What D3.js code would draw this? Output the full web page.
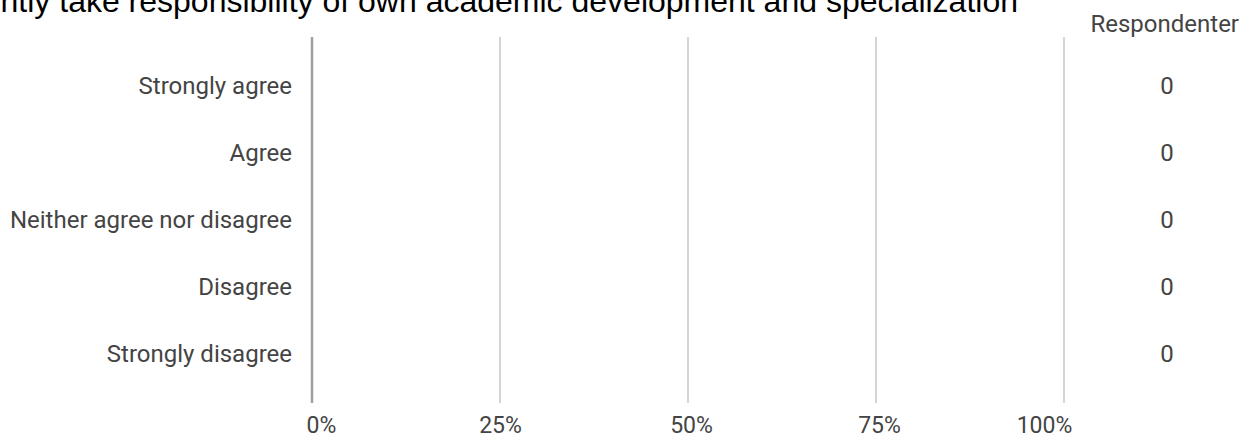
<!DOCTYPE html>
<html>
<head>
<meta charset="utf-8">
<script src="https://cdn.jsdelivr.net/npm/d3@7"></script>
<style>
  html, body { margin: 0; padding: 0; background: #fff; overflow: hidden; }
  svg { display: block; }
</style>
</head>
<body>
<svg id="chart" width="1258" height="441"></svg>
<script>
const titleText = "I currently take responsibility of own academic development and specialization";
const categories = ["Strongly agree", "Agree", "Neither agree nor disagree", "Disagree", "Strongly disagree"];
const percentValues = [0, 0, 0, 0, 0];
const respondentCounts = [0, 0, 0, 0, 0];
const xTicks = [0, 0.25, 0.5, 0.75, 1];
const countHeader = "Respondenter";

const svg = d3.select("#chart");
const font = "Roboto, 'Noto Sans', sans-serif";

const x = d3.scaleLinear().domain([0, 1]).range([312, 1064]);
const y = d3.scaleBand().domain(categories).range([52.5, 387.5]).paddingInner(0.3).paddingOuter(0.15);

// title (clipped at top-left like the reference)
svg.append("text")
  .attr("x", 1018).attr("y", 12)
  .attr("text-anchor", "end")
  .attr("font-family", "'Liberation Sans', Arial, sans-serif")
  .attr("font-size", 32)
  .attr("fill", "#000")
  .text(titleText);

// gridlines
svg.append("g").selectAll("line")
  .data(xTicks.slice(1))
  .join("line")
  .attr("x1", d => x(d)).attr("x2", d => x(d))
  .attr("y1", 37).attr("y2", 403)
  .attr("stroke", "#aaa").attr("stroke-width", 1);

// bars (all zero)
svg.append("g").selectAll("rect")
  .data(categories.map((c, i) => ({c, v: percentValues[i]})))
  .join("rect")
  .attr("x", x(0)).attr("y", d => y(d.c))
  .attr("width", d => x(d.v) - x(0)).attr("height", y.bandwidth())
  .attr("fill", "#3366cc");

// baseline axis line
svg.append("line")
  .attr("x1", x(0)).attr("x2", x(0))
  .attr("y1", 37).attr("y2", 403)
  .attr("stroke", "#9e9e9e").attr("stroke-width", 2.5);

// x axis labels
const xAxis = d3.axisBottom(x).tickValues(xTicks).tickFormat(d3.format(".0%")).tickSize(0).tickPadding(0);
const gx = svg.append("g").attr("transform", "translate(0,417)").call(xAxis);
gx.select(".domain").remove();
gx.selectAll("text")
  .attr("font-family", font).attr("font-size", 23).attr("fill", "#444")
  .attr("dx", (d, i) => i === 0 ? 9 : (i === xTicks.length - 1 ? -20 : (i === 2 ? 3 : (i === 3 ? 3 : 0))));

// y axis labels
const yAxis = d3.axisLeft(y).tickSize(0).tickPadding(0);
const gy = svg.append("g").attr("transform", "translate(292,0)").call(yAxis);
gy.select(".domain").remove();
gy.selectAll("text")
  .attr("font-family", font).attr("font-size", 24).attr("fill", "#444");

// count column
svg.append("text")
  .attr("x", 1239).attr("y", 32)
  .attr("text-anchor", "end")
  .attr("font-family", font).attr("font-size", 24).attr("fill", "#444")
  .text(countHeader);

svg.append("g").selectAll("text")
  .data(categories.map((c, i) => ({c, n: respondentCounts[i]})))
  .join("text")
  .attr("x", 1167).attr("y", d => y(d.c) + y.bandwidth() / 2)
  .attr("dy", "0.35em")
  .attr("text-anchor", "middle")
  .attr("font-family", font).attr("font-size", 24).attr("fill", "#444")
  .text(d => d.n);
</script>
</body>
</html>
